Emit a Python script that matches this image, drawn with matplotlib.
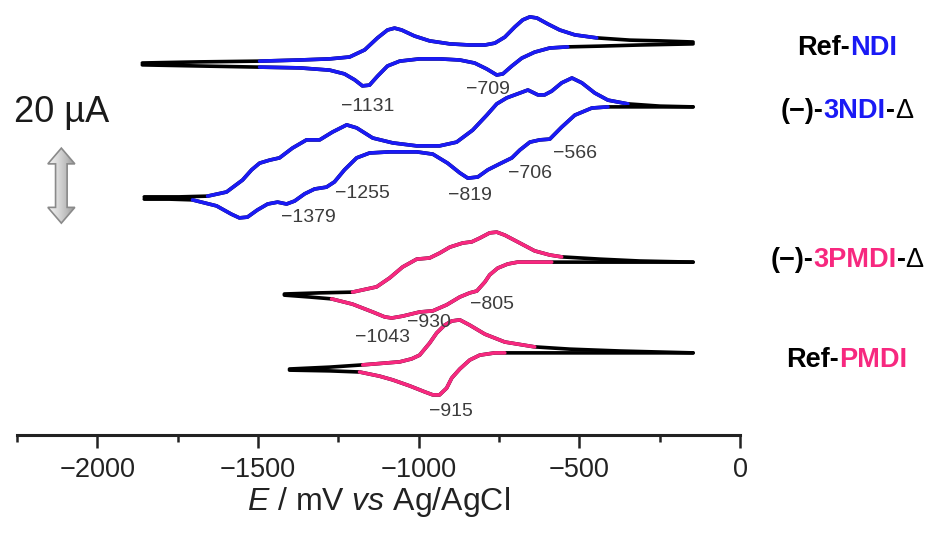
import numpy as np
import matplotlib.pyplot as plt
from matplotlib.patches import Polygon

plt.rcParams['font.family'] = ['Liberation Sans', 'DejaVu Sans']
plt.rcParams['mathtext.fontset'] = 'custom'
plt.rcParams['mathtext.rm'] = 'Liberation Sans'
plt.rcParams['mathtext.it'] = 'Liberation Sans:italic'

BLUE = '#1a1af5'
PINK = '#f7287f'

# --- CV traces (E in mV vs Ag/AgCl, current in uA incl. vertical offset) ---
# Ref-NDI
refndi_E_up = [-1860, -1682, -1495, -1371, -1277, -1215, -1168, -1128, -1097, -1075, -1053, -1013,
               -966, -903, -841, -794, -763, -732, -701, -676, -654, -632, -598, -561, -514, -446,
               -343, -249, -146]
refndi_I_up = [99.2, 99.5, 99.7, 100.0, 100.3, 100.8, 102.7, 105.9, 108.0, 108.5, 108.0, 106.4,
               105.1, 104.3, 104.0, 104.0, 104.5, 106.1, 108.8, 110.7, 111.5, 111.2, 109.6, 108.0,
               106.7, 105.9, 105.3, 105.1, 104.8]
refndi_E_dn = [-1860, -1682, -1495, -1371, -1277, -1231, -1199, -1175, -1153, -1128, -1097, -1059,
               -997, -935, -872, -826, -788, -757, -738, -710, -679, -639, -592, -536, -436, -312,
               -146]
refndi_I_dn = [98.7, 98.4, 98.1, 97.9, 97.3, 96.3, 94.7, 93.1, 93.3, 95.7, 98.4, 99.7, 100.3,
               100.3, 100.0, 99.2, 97.6, 96.0, 96.3, 98.4, 100.5, 102.1, 103.2, 103.5, 103.7, 104.0,
               104.3]

# (-)-3NDI-Delta
ndi3_E_up = [-1854, -1745, -1657, -1598, -1548, -1520, -1495, -1464, -1433, -1393, -1349, -1308,
             -1268, -1224, -1193, -1143, -1081, -1006, -935, -882, -832, -788, -757, -726, -685,
             -660, -629, -608, -586, -555, -523, -492, -452, -411, -349, -249, -146]
ndi3_I_up = [63.5, 63.5, 63.7, 64.8, 68.0, 70.7, 72.5, 73.3, 73.9, 76.5, 78.7, 78.7, 80.8, 82.7,
             81.9, 79.2, 77.9, 77.1, 77.1, 78.1, 81.3, 85.3, 88.3, 89.9, 91.2, 92.0, 90.7, 90.7,
             91.7, 93.9, 95.2, 93.9, 91.2, 89.3, 88.3, 87.7, 87.5]
ndi3_E_dn = [-1854, -1776, -1704, -1629, -1583, -1558, -1533, -1502, -1470, -1439, -1411, -1386,
             -1355, -1324, -1287, -1262, -1231, -1193, -1153, -1090, -1006, -956, -910, -872,
             -847, -816, -785, -748, -710, -685, -654, -623, -592, -555, -514, -461, -411, -312,
             -146]
ndi3_I_dn = [62.9, 62.9, 62.7, 61.1, 58.9, 57.9, 58.1, 60.0, 61.6, 62.1, 61.6, 62.4, 64.3, 65.6,
             66.1, 67.5, 70.7, 73.9, 75.2, 75.5, 75.5, 74.9, 72.5, 69.9, 68.5, 68.8, 70.7, 72.3,
             73.9, 76.0, 78.1, 78.7, 78.9, 82.1, 85.3, 87.2, 87.5, 87.5, 87.5]

# (-)-3PMDI-Delta
pmdi3_E_up = [-1418, -1308, -1206, -1131, -1090, -1050, -1006, -966, -935, -903, -863, -835,
              -810, -779, -757, -732, -692, -639, -592, -555, -436, -312, -146]
pmdi3_I_up = [37.6, 37.9, 38.1, 39.5, 41.9, 44.8, 46.9, 47.2, 48.5, 50.1, 51.2, 51.5, 52.5, 53.9,
              54.1, 53.3, 51.5, 49.1, 48.0, 47.5, 46.9, 46.4, 46.1]
pmdi3_E_dn = [-1418, -1340, -1271, -1206, -1143, -1106, -1084, -1050, -997, -956, -913, -872,
              -841, -819, -794, -779, -754, -723, -692, -586, -436, -312, -146]
pmdi3_I_dn = [37.3, 36.8, 36.3, 34.9, 32.8, 31.5, 31.2, 31.7, 32.8, 33.1, 34.7, 36.8, 37.9, 38.4,
              40.8, 42.7, 44.5, 45.6, 46.1, 46.1, 46.1, 46.1, 46.1]

# Ref-PMDI
refpmdi_E_up = [-1402, -1277, -1174, -1059, -1022, -997, -966, -944, -919, -897, -872, -841, -794,
                -732, -639, -530, -374, -146]
refpmdi_I_up = [17.6, 18.1, 18.7, 19.5, 20.3, 21.3, 24.5, 27.2, 29.3, 30.4, 30.7, 29.3, 26.9, 24.8,
                23.5, 22.9, 22.4, 21.9]
refpmdi_E_dn = [-1402, -1277, -1184, -1122, -1081, -1028, -981, -956, -935, -913, -897, -872, -841,
                -810, -763, -732, -592, -146]
refpmdi_I_dn = [17.3, 17.1, 16.8, 15.7, 14.7, 13.1, 11.5, 10.7, 10.7, 12.5, 15.2, 17.6, 20.0, 21.3,
                21.9, 21.9, 21.9, 21.9]

# potential window of the coloured scan (upper lo/hi, lower lo/hi)
refndi_win = (-1495, -446, -1495, -536)
ndi3_win = (-1657, -349, -1704, -411)
pmdi3_win = (-1206, -555, -1271, -586)
refpmdi_win = (-1174, -639, -1184, -732)

# half-wave potentials written next to the waves
peak_labels = ['−1131', '−709', '−1255', '−1379', '−819', '−706', '−566',
               '−1043', '−930', '−805', '−915']
peak_label_E = [-1159, -785, -1174, -1343, -841, -654, -514, -1112, -969, -773, -900]
peak_label_I = [87.7, 92.0, 64.5, 57.9, 64.0, 69.6, 75.2, 25.9, 30.1, 34.7, 6.4]

scale_uA = 20

fig = plt.figure(figsize=(9.43, 5.33), dpi=100)
ax = fig.add_axes([17 / 943, 98 / 533, 723 / 943, 435 / 533])
ax.set_xlim(-2250, 0)
ax.set_ylim(0, 116)


def branch(E, I, lo, hi, color):
    E = np.asarray(E)
    I = np.asarray(I)
    kw = dict(lw=2.6, solid_joinstyle='round', solid_capstyle='round')
    ax.plot(E, I, color='black', **kw)
    m = (E >= lo) & (E <= hi)
    ax.plot(E[m], I[m], color=color, **kw)


traces = [
    (refndi_E_up, refndi_I_up, refndi_E_dn, refndi_I_dn, refndi_win, BLUE),
    (ndi3_E_up, ndi3_I_up, ndi3_E_dn, ndi3_I_dn, ndi3_win, BLUE),
    (pmdi3_E_up, pmdi3_I_up, pmdi3_E_dn, pmdi3_I_dn, pmdi3_win, PINK),
    (refpmdi_E_up, refpmdi_I_up, refpmdi_E_dn, refpmdi_I_dn, refpmdi_win, PINK),
]
for Eu, Iu, Ed, Id, win, col in traces:
    branch(Eu, Iu, win[0], win[1], col)
    branch(Ed, Id, win[2], win[3], col)

for s, e, i in zip(peak_labels, peak_label_E, peak_label_I):
    ax.text(e, i, s, fontsize=14, color='#3c3c3c', ha='center', va='center')

# scale bar: double arrow of 20 uA
cx, cy = -2112, 66.5
hw, sw, hl = 42, 18, 4.2
y0, y1 = cy - scale_uA / 2, cy + scale_uA / 2
verts = [(cx, y1), (cx + hw, y1 - hl), (cx + sw, y1 - hl), (cx + sw, y0 + hl), (cx + hw, y0 + hl),
         (cx, y0), (cx - hw, y0 + hl), (cx - sw, y0 + hl), (cx - sw, y1 - hl), (cx - hw, y1 - hl)]
arrow = Polygon(verts, closed=True, facecolor='none', edgecolor='#8a8a8a', lw=1.2, zorder=3)
ax.add_patch(arrow)
grad = np.linspace(0.1, 0.5, 64).reshape(1, -1)
im = ax.imshow(grad, cmap='Greys', vmin=0, vmax=1, extent=(cx - hw, cx + hw, y0, y1),
               aspect='auto', zorder=2)
im.set_clip_path(arrow)
ax.text(-2112, 86.1, '20 µA', fontsize=26, ha='center', va='center', color='#1a1a1a')

ax.set_xticks([-2000, -1500, -1000, -500, 0])
ax.set_xticklabels(['−2000', '−1500', '−1000', '−500', '0'])
ax.set_xticks([-2250, -1750, -1250, -750, -250], minor=True)
ax.tick_params(axis='x', which='major', length=9, width=1.8, labelsize=19.5, pad=7, colors='#222222')
ax.tick_params(axis='x', which='minor', length=5, width=1.8, colors='#222222')
ax.set_yticks([])
for side in ('left', 'right', 'top'):
    ax.spines[side].set_visible(False)
ax.spines['bottom'].set_linewidth(2.2)
ax.spines['bottom'].set_color('#222222')
ax.set_xlabel(r'$\mathit{E}$ / mV $\mathit{vs}$ Ag/AgCl', fontsize=23, labelpad=1, color='#222222')

# compound names on the right, part coloured
names = [
    (55, [('Ref-', 'black', 'bold'), ('NDI', BLUE, 'bold')]),
    (118, [('(−)-', 'black', 'bold'), ('3NDI', BLUE, 'bold'), ('-', 'black', 'bold'),
           ('Δ', 'black', 'normal')]),
    (267, [('(−)-', 'black', 'bold'), ('3PMDI', PINK, 'bold'), ('-', 'black', 'bold'),
           ('Δ', 'black', 'normal')]),
    (367, [('Ref-', 'black', 'bold'), ('PMDI', PINK, 'bold')]),
]
fig.canvas.draw()
r = fig.canvas.get_renderer()
for yb, parts in names:
    ts = [fig.text(0, 1 - yb / 533, s, color=c, fontweight=w, fontsize=19.5, va='baseline')
          for s, c, w in parts]
    widths = [t.get_window_extent(r).width for t in ts]
    x = 847 - sum(widths) / 2
    for t, wd in zip(ts, widths):
        t.set_x(x / 943)
        x += wd

fig.savefig('out.png', dpi=100)
